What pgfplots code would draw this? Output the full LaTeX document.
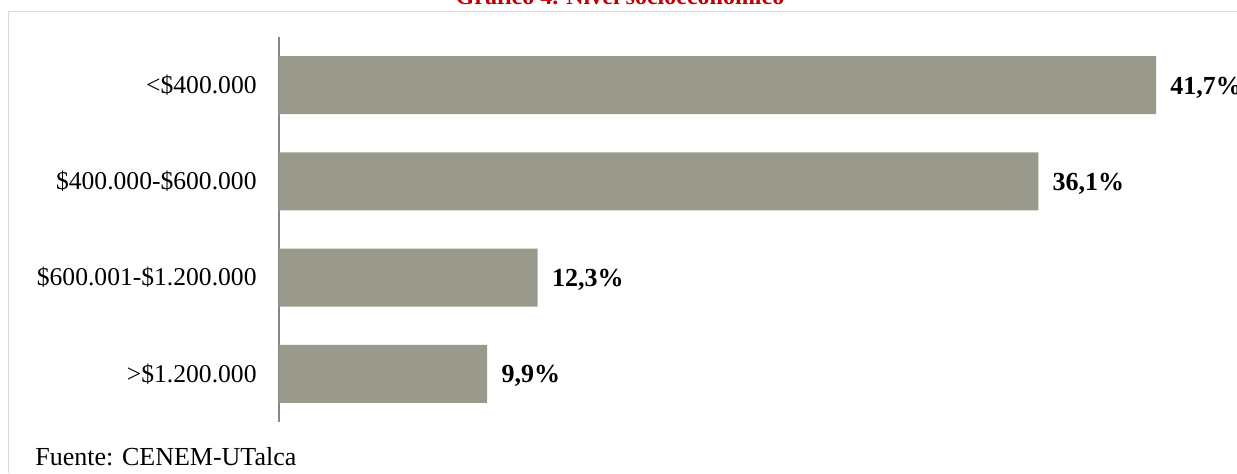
\documentclass[border=0pt]{standalone}
\usepackage{pgfplots}
\pgfplotsset{compat=1.18}
\usepackage{fontspec}
\setmainfont{Liberation Serif}
\definecolor{barc}{RGB}{154,154,140}
\definecolor{framec}{RGB}{217,217,217}
\definecolor{titlec}{RGB}{192,0,0}
\begin{document}
\begin{tikzpicture}
\path[use as bounding box] (0,0) rectangle (618.5pt,236.5pt);
\draw[framec, line width=0.7pt] (4.25pt,0) -- (4.25pt,230.75pt) -- (620pt,230.75pt);
\node[anchor=base, inner sep=0pt, text=titlec, font=\bfseries\fontsize{12}{14}\selectfont] at (310pt,234.2pt) {Gráfico 4. Nivel socioeconómico};
\begin{axis}[
  at={(139.5pt,25.5pt)}, anchor=south west,
  scale only axis, width=479pt, height=192.5pt,
  xbar, bar width=29pt,
  xmin=0, xmax=45.55,
  ymin=-0.5, ymax=3.5, y dir=reverse,
  axis x line=none,
  axis y line=left,
  y axis line style={-, draw={rgb,255:red,134;green,134;blue,134}, line width=0.8pt},
  major tick length=0pt,
  ytick={0,1,2,3},
  yticklabels={{<\$400.000},{\$400.000-\$600.000},{\$600.001-\$1.200.000},{>\$1.200.000}},
  yticklabel style={font=\fontsize{12.8}{15}\selectfont, inner sep=0pt, anchor=east, xshift=-11pt},
  clip=false,
  nodes near coords={\pgfmathprintnumber[fixed, precision=1, fixed zerofill, use comma, assume math mode=true]{\pgfplotspointmeta}\%},
  nodes near coords style={font=\bfseries\fontsize{13}{15}\selectfont, anchor=west, inner sep=0pt, xshift=7pt, yshift=-1.2pt},
  point meta=explicit,
]
\addplot[fill=barc, draw=none] coordinates {(41.7,0) [41.7] (36.1,1) [36.1] (12.3,2) [12.3] (9.9,3) [9.9]};
\end{axis}
\node[anchor=base west, inner sep=0pt, font=\fontsize{13}{15}\selectfont] at (17.5pt,4pt) {Fuente: CENEM-UTalca};
\end{tikzpicture}
\end{document}
